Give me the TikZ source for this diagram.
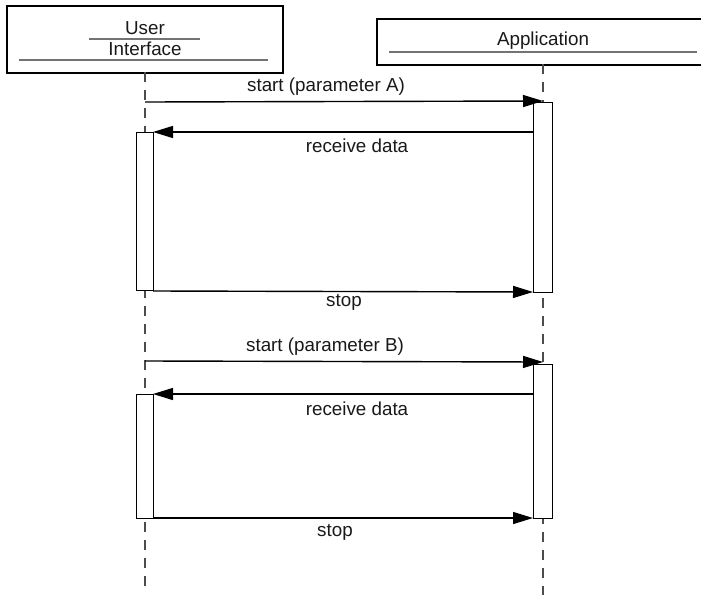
\documentclass[tikz,border=0pt]{standalone}
\usepackage{fontspec}
\setmainfont{Liberation Sans}
\usetikzlibrary{arrows.meta}
\begin{document}
\begin{tikzpicture}[x=1pt,y=-1pt,
  lbl/.style={font=\fontsize{18.8}{20}\selectfont, inner sep=0pt, text=black!90},
  headbox/.style={draw, line width=1.7pt, inner sep=0pt, anchor=north west},
  inner/.style={draw=black!55, line width=1.2pt},
  lifeline/.style={draw=black!70, line width=1.1pt, dash pattern=on 10pt off 8pt},
  actbox/.style={draw, line width=1.4pt, fill=white, inner sep=0pt, minimum width=18pt, anchor=north west},
  msg/.style={draw, line width=1.4pt, -{Triangle[length=20pt,width=12pt]}}
]
\useasboundingbox (0,0) rectangle (701,594);
\clip (0,0) rectangle (701,594);
% header boxes
\node[headbox, minimum width=276pt, minimum height=67pt] (uibox) at (6,5) {};
\node[headbox, minimum width=340pt, minimum height=46pt] (appbox) at (376,18) {};
\node[lbl] (uitxt1) at (145,28) {User};
\node[lbl] (uitxt2) at (145,49) {Interface};
\node[lbl] (apptxt) at (543,41) {Application};
\draw[inner] (89,39) -- (200,39);
\draw[inner] (19,60) -- (268,60);
\draw[inner] (389,52) -- (697,52);
% lifelines
\coordinate (uitop) at (145,72);
\coordinate (uibot) at (145,590);
\coordinate (apptop) at (543,64);
\coordinate (appbot) at (543,600);
\draw[lifeline] (uitop) -- (uibot);
\draw[lifeline] (apptop) -- (appbot);
% activation boxes
\node[actbox, minimum width=19pt, minimum height=190pt] (app1) at (533,102) {};
\node[actbox, minimum width=17pt, minimum height=158pt] (ui1) at (136,132) {};
\node[actbox, minimum width=19pt, minimum height=154pt] (app2) at (533,364) {};
\node[actbox, minimum width=17pt, minimum height=124pt] (ui2) at (136,394) {};
% message endpoints
\coordinate (a1s) at (145,102);
\coordinate (a1e) at (543,101);
\coordinate (r1s) at (533,132);
\coordinate (r1e) at (153,132);
\coordinate (s1s) at (153,291);
\coordinate (s1e) at (533,292);
\coordinate (a2s) at (145,361);
\coordinate (a2e) at (543,362);
\coordinate (r2s) at (533,394);
\coordinate (r2e) at (153,394);
\coordinate (s2s) at (153,518);
\coordinate (s2e) at (533,518);
% messages
\draw[msg] (a1s) -- (a1e);
\draw[msg] (r1s) -- (r1e);
\draw[msg] (s1s) -- (s1e);
\draw[msg] (a2s) -- (a2e);
\draw[msg] (r2s) -- (r2e);
\draw[msg] (s2s) -- (s2e);
% labels
\node[lbl] (m1) at (326,87) {start (parameter A)};
\node[lbl] (m2) at (357,146) {receive data};
\node[lbl] (m3) at (344,302) {stop};
\node[lbl] (m4) at (325,347) {start (parameter B)};
\node[lbl] (m5) at (357,409) {receive data};
\node[lbl] (m6) at (335,532) {stop};
\end{tikzpicture}
\end{document}
